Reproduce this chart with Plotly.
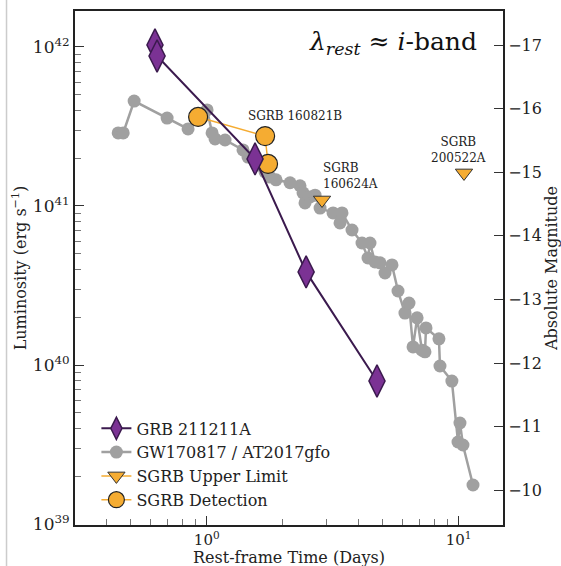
import numpy as np
import plotly.graph_objects as go

# ---------------- data ----------------
grb_t = [0.623, 0.635, 1.555, 2.48, 4.74]
grb_L = [1.030e42, 8.77e41, 1.977e41, 3.85e40, 7.93e39]

gw_t = [0.445, 0.466, 0.515, 0.696, 0.843, 1.003, 1.05, 1.079, 1.182, 1.393,
        1.458, 1.598, 1.703, 1.783, 1.884, 2.141, 2.345, 2.411, 2.455, 2.570,
        2.691, 2.817, 3.172, 3.381, 3.443, 3.773, 4.133, 4.366, 4.446, 4.655,
        4.874, 5.10, 5.436, 5.744, 6.12, 6.35, 6.59, 6.84, 7.15, 7.35,
        7.42, 8.35, 8.43, 9.40, 9.94, 10.12, 10.40, 11.40]
gw_L = [2.88e41, 2.88e41, 4.57e41, 3.57e41, 3.05e41, 4.02e41, 2.88e41, 2.64e41, 2.60e41, 2.25e41,
        2.03e41, 1.81e41, 1.64e41, 1.52e41, 1.46e41, 1.40e41, 1.34e41, 1.21e41, 1.045e41, 1.14e41,
        1.17e41, 9.70e40, 9.04e40, 7.82e40, 9.04e40, 7.06e40, 5.85e40, 4.71e40, 5.85e40, 4.45e40,
        4.39e40, 3.79e40, 4.26e40, 2.92e40, 2.12e40, 2.45e40, 1.30e40, 1.98e40, 1.24e40, 1.21e40,
        1.71e40, 1.46e40, 9.86e39, 7.93e39, 3.28e39, 4.32e39, 3.14e39, 1.76e39]

det_name = "SGRB 160821B"
det_t = [0.924, 1.705, 1.751]
det_L = [3.63e41, 2.75e41, 1.837e41]

ul_names = ["SGRB<br>160624A", "SGRB<br>200522A"]
ul_t = [2.868, 10.5]
ul_L = [1.091e41, 1.614e41]

y_ticks = [1e39, 1e40, 1e41, 1e42]
y_ticktext = ["10<sup>39</sup>", "10<sup>40</sup>", "10<sup>41</sup>", "10<sup>42</sup>"]
x_ticks = [1, 10]
x_ticktext = ["10<sup>0</sup>", "10<sup>1</sup>"]
mag_ticks = [-10, -11, -12, -13, -14, -15, -16, -17]
MAG_ZP = 88.03  # M = -2.5 log10(L) + ZP

# ---------------- style ----------------
FONT = "DejaVu Serif"
PURPLE = "#7b3294"
PURPLE_DARK = "#3b1a4e"
GRAY = "#a0a0a0"
ORANGE = "#f5ac32"

yr = [38.994, 42.226]
xr = [-0.523, 1.176]
mag_range = [-2.5 * yr[0] + MAG_ZP, -2.5 * yr[1] + MAG_ZP]

fig = go.Figure()

fig.add_trace(go.Scatter(
    x=gw_t, y=gw_L, mode="lines+markers", name="GW170817 / AT2017gfo",
    line=dict(color=GRAY, width=2.5),
    marker=dict(color=GRAY, size=13, line=dict(width=0)),
    legendrank=2))

fig.add_trace(go.Scatter(
    x=det_t, y=det_L, mode="lines+markers", name="SGRB Detection",
    line=dict(color=ORANGE, width=1.5),
    marker=dict(color=ORANGE, size=19, symbol="circle", line=dict(color="#222", width=1.2)),
    legendrank=4))

for i, (t, L) in enumerate(zip(ul_t, ul_L)):
    fig.add_trace(go.Scatter(
        x=[t], y=[L], mode="lines+markers", name="SGRB Upper Limit",
        line=dict(color=ORANGE, width=1.5),
        marker=dict(color=ORANGE, size=15, symbol="triangle-down", line=dict(color="#333", width=1)),
        showlegend=(i == 0), legendrank=3))

fig.add_trace(go.Scatter(
    x=grb_t, y=grb_L, mode="lines+markers", name="GRB 211211A",
    line=dict(color=PURPLE_DARK, width=2),
    marker=dict(color=PURPLE, size=23, symbol="diamond-tall", line=dict(color=PURPLE_DARK, width=1.5)),
    legendrank=1))

# invisible trace for magnitude axis
fig.add_trace(go.Scatter(
    x=grb_t, y=[-2.5 * np.log10(L) + MAG_ZP for L in grb_L], yaxis="y2",
    mode="markers", marker=dict(opacity=0), showlegend=False, hoverinfo="skip"))

# labels
fig.add_annotation(x=np.log10(2.24), y=41.566, text=det_name, showarrow=False,
                   font=dict(family=FONT, size=12, color="#222"), xanchor="center", yanchor="middle")
fig.add_annotation(x=np.log10(2.85), y=41.189, text=ul_names[0], showarrow=False, align="left",
                   font=dict(family=FONT, size=12, color="#222"), xanchor="left", yanchor="middle")
fig.add_annotation(x=np.log10(10.0), y=41.352, text=ul_names[1], showarrow=False, align="center",
                   font=dict(family=FONT, size=12, color="#222"), xanchor="center", yanchor="middle")

fig.add_annotation(xref="paper", yref="paper", x=0.944, y=0.938,
                   text="<i>λ</i><sub><i>rest</i></sub> ≈ <i>i</i>-band", showarrow=False,
                   xanchor="right", yanchor="middle",
                   font=dict(family=FONT, size=25, color="#111"))

# x-axis title as annotation (precise placement)
fig.add_annotation(xref="paper", yref="paper", x=0.5, y=-0.063,
                   text="Rest-frame Time (Days)", showarrow=False,
                   xanchor="center", yanchor="middle",
                   font=dict(family=FONT, size=16, color="#222"))

# thin image border line at left
fig.add_shape(type="line", xref="paper", yref="paper", x0=-0.16, x1=-0.16, y0=-0.09, y1=1.03,
              line=dict(color="#cccccc", width=1.5))

axis_common = dict(showline=True, linecolor="#222", linewidth=2, mirror=True,
                   ticks="inside", tickcolor="#333", ticklen=9, tickwidth=1.2,
                   showgrid=False, zeroline=False, automargin=False,
                   title_font=dict(family=FONT, size=16, color="#222"))

fig.update_layout(
    width=561, height=566,
    margin=dict(l=75, r=58, t=11, b=41),
    paper_bgcolor="white", plot_bgcolor="white",
    font=dict(family=FONT, color="#222"),
    xaxis=dict(type="log", range=xr, tickvals=x_ticks, ticktext=x_ticktext,
               tickfont=dict(family=FONT, size=15, color="#222"),
               minor=dict(ticks="inside", ticklen=6, tickcolor="#777", tickwidth=1,
                          tickvals=[0.3, 0.4, 0.5, 0.6, 0.7, 0.8, 0.9, 2, 3, 4, 5, 6, 7, 8, 9]),
               **axis_common),
    yaxis=dict(type="log", range=yr, tickvals=y_ticks, ticktext=y_ticktext,
               tickfont=dict(family=FONT, size=17, color="#222"),
               title=dict(text="Luminosity (erg s<sup>−1</sup>)", standoff=2),
               minor=dict(ticks="inside", ticklen=6, tickcolor="#777", tickwidth=1,
                          tickvals=[k * 10.0 ** n for n in (39, 40, 41) for k in range(2, 10)]),
               **axis_common),
    yaxis2=dict(overlaying="y", side="right", range=mag_range,
                tickvals=mag_ticks, ticktext=["−%d" % abs(m) for m in mag_ticks],
                tickfont=dict(family=FONT, size=16, color="#222"),
                title=dict(text="Absolute Magnitude", standoff=2),
                **{k: v for k, v in axis_common.items() if k != "mirror"}),
    legend=dict(x=0.05, y=0.221, xanchor="left", yanchor="top",
                bgcolor="rgba(255,255,255,0)", borderwidth=0,
                font=dict(family=FONT, size=16, color="#222"), tracegroupgap=0),
    showlegend=True,
)

fig.write_html("out.html")
